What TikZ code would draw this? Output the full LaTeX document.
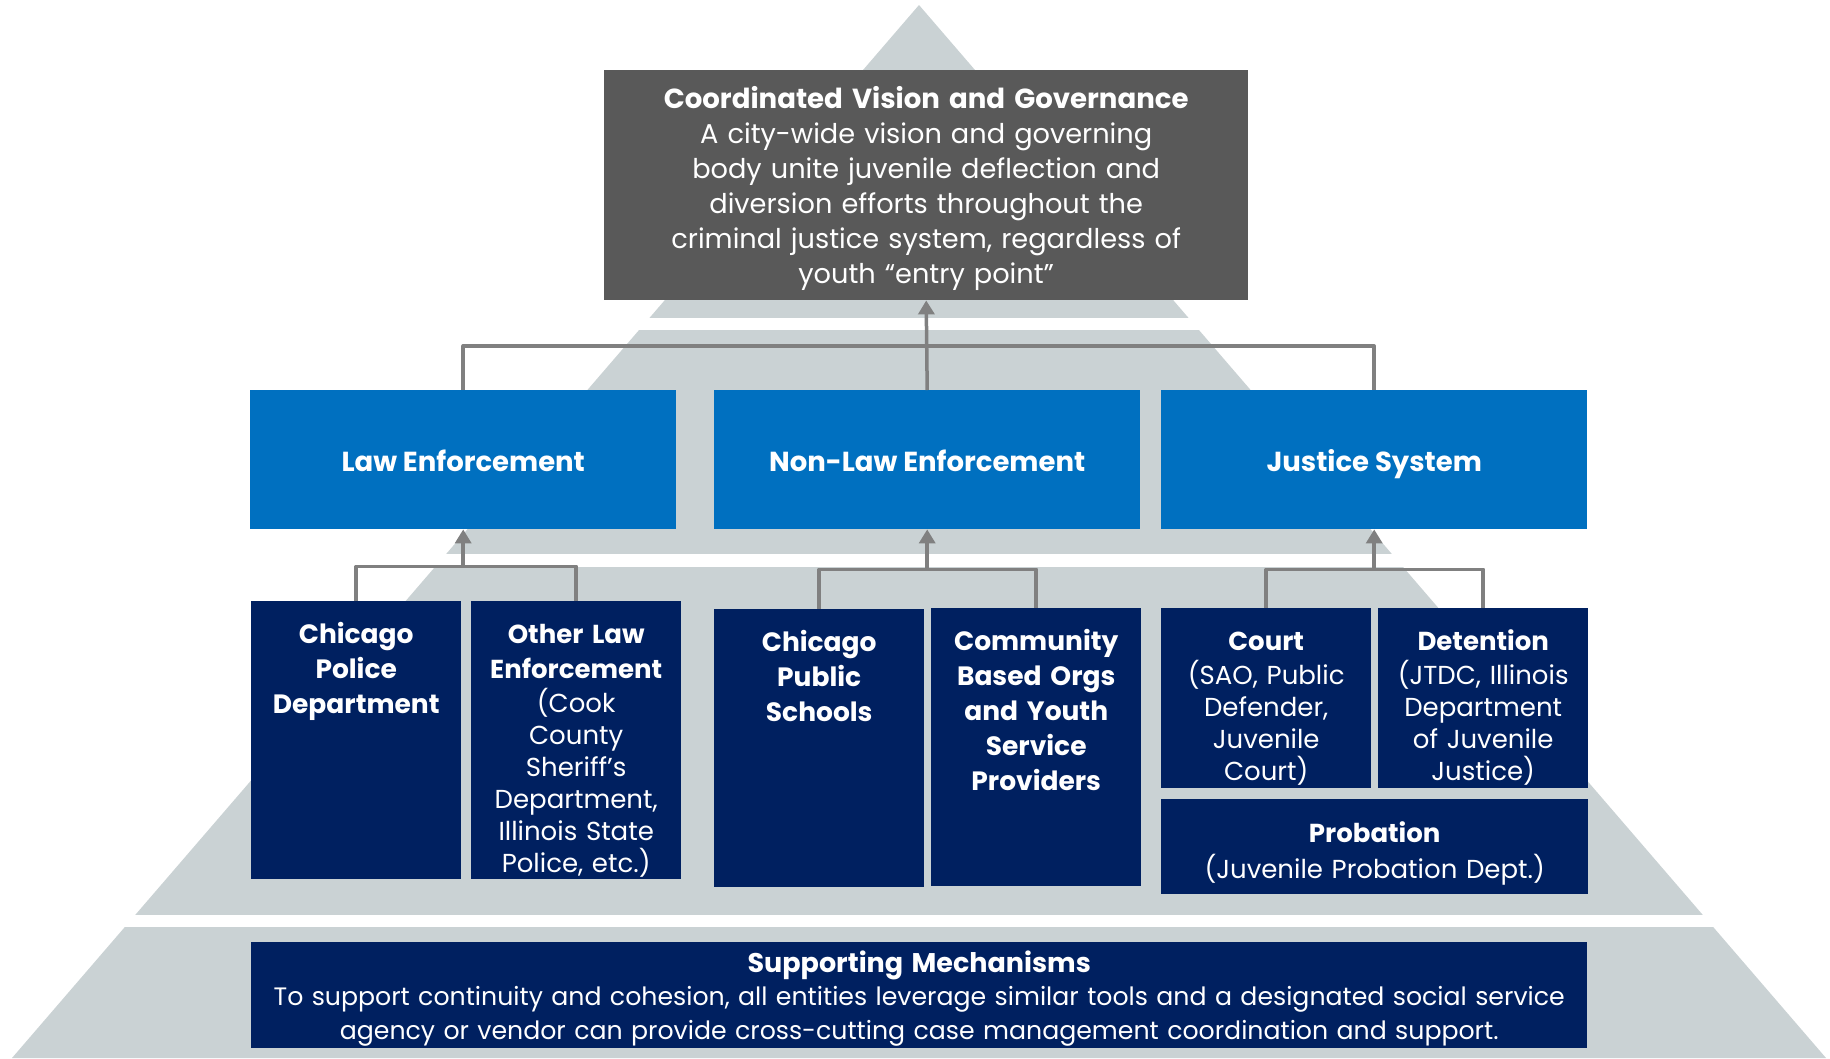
\documentclass[tikz,border=0pt]{standalone}
\usepackage{fontspec}
\setmainfont{Poppins}
\usetikzlibrary{arrows.meta}
\definecolor{pyrgrey}{HTML}{CAD2D4}
\definecolor{govgrey}{HTML}{595959}
\definecolor{lvlblue}{HTML}{0070C0}
\definecolor{navy}{HTML}{002060}
\definecolor{linkgrey}{HTML}{808080}
\begin{document}
\begin{tikzpicture}[x=1pt,y=-1pt,line join=round,
    box/.style={anchor=north west,inner sep=0pt,text=white,align=center},
    unit/.style={box,fill=navy,text width=210pt,text height=42pt,text depth=236pt,
      font=\fontsize{26}{32}\selectfont},
    boldunit/.style={unit,font=\bfseries\fontsize{26.5}{35}\selectfont},
    tier/.style={box,fill=lvlblue,minimum width=426pt,minimum height=139pt,
      text height=23pt,text depth=0pt,font=\bfseries\fontsize{27.5}{30}\selectfont},
    link/.style={draw=linkgrey,line width=3.5pt},
    up/.style={link,-{Triangle[width=16pt,length=14pt]}}]
  \useasboundingbox (0,0) rectangle (1830,1058);
  % pyramid with white gaps between bands
  \fill[pyrgrey] (919,5) -- (1826,1058) -- (12,1058) -- cycle;
  \foreach \ya/\yb in {318/330,554/567,915/927}
    \fill[white] (0,\ya) rectangle (1830,\yb);
  % top
  \node[box,fill=govgrey,text width=644pt,text height=38pt,text depth=192pt,
    font=\fontsize{27.2}{35}\selectfont] (gov) at (604,70)
    {\textbf{\fontsize{27.6}{35}\selectfont Coordinated Vision and Governance}\\A city-wide vision and governing\\body unite juvenile deflection and\\diversion efforts throughout the\\criminal justice system, regardless of\\youth “entry point”};
  % middle tier
  \node[tier] (le) at (250,390) {Law Enforcement};
  \node[tier] (nl) at (714,390) {Non-Law Enforcement};
  \node[tier] (js) at (1161,390) {Justice System};
  % entities
  \node[boldunit] (cpd) at (251,601) {Chicago\\Police\\Department};
  \node[unit] (ole) at (471,601) {\textbf{Other Law}\\[3pt]\textbf{Enforcement}\\[2pt](Cook\\County\\Sheriff’s\\Department,\\Illinois State\\Police, etc.)};
  \node[boldunit] (cps) at (714,609) {Chicago\\Public\\Schools};
  \node[boldunit] (cbo) at (931,608) {Community\\Based Orgs\\and Youth\\Service\\Providers};
  \node[unit,text depth=138pt] (court) at (1161,608) {\textbf{Court}\\[2pt](SAO, Public\\Defender,\\Juvenile\\Court)};
  \node[unit,text depth=138pt] (det) at (1378,608) {\textbf{Detention}\\[2pt](JTDC, Illinois\\Department\\of Juvenile\\Justice)};
  \node[box,fill=navy,text width=427pt,text height=43pt,text depth=52pt,
    font=\fontsize{26}{36}\selectfont] (prob) at (1161,799)
    {\textbf{Probation}\\(Juvenile Probation Dept.)};
  % base
  \node[box,fill=navy,text width=1336pt,text height=30pt,text depth=76pt,
    font=\fontsize{25.2}{33.5}\selectfont] (supp) at (251,942)
    {\textbf{\fontsize{27}{33.5}\selectfont Supporting Mechanisms}\\To support continuity and cohesion, all entities leverage similar tools and a designated social service\\agency or vendor can provide cross-cutting case management coordination and support.};
  % connectors
  \draw[link] (le.north) |- ([yshift=44pt]nl.north) -| (js.north);
  \draw[up] (nl.north) -- (gov.south);
  \draw[link] (cpd.north) |- ([yshift=-37pt]le.south) -| (ole.north);
  \draw[up] ([yshift=-37pt]le.south) -- (le.south);
  \draw[link] (cps.north) |- ([yshift=-40pt]nl.south) -| (cbo.north);
  \draw[up] ([yshift=-40pt]nl.south) -- (nl.south);
  \draw[link] (court.north) |- ([yshift=-40pt]js.south) -| (det.north);
  \draw[up] ([yshift=-40pt]js.south) -- (js.south);
\end{tikzpicture}
\end{document}
